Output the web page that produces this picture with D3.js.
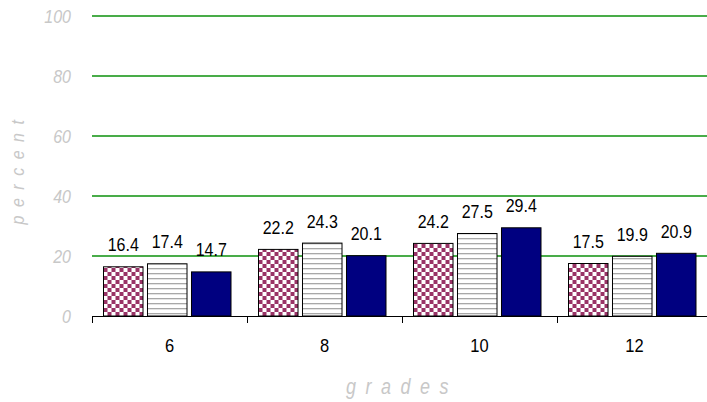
<!DOCTYPE html>
<html>
<head>
<meta charset="utf-8">
<script src="https://cdn.jsdelivr.net/npm/d3@7"></script>
<style>
  html, body { margin: 0; padding: 0; background: #fff; }
  svg { display: block; }
  text { font-family: "Liberation Sans", Arial, sans-serif; }
</style>
</head>
<body>
<svg id="chart" width="707" height="402"></svg>
<script>
// Share of students by grade, three series per grade
const grades = ["6", "8", "10", "12"];
const seriesKeys = ["a", "b", "c"];
const seriesA = [16.4, 22.2, 24.2, 17.5];
const seriesB = [17.4, 24.3, 27.5, 19.9];
const seriesC = [14.7, 20.1, 29.4, 20.9];
const yTicks = [0, 20, 40, 60, 80, 100];
const yTitle = "percent";
const xTitle = "grades";

const seriesValues = { a: seriesA, b: seriesB, c: seriesC };
const rows = grades.map((g, i) => ({
  grade: g,
  values: seriesKeys.map(k => ({ key: k, value: seriesValues[k][i] }))
}));

const svg = d3.select("#chart");
const W = 707;
const plotLeft = 92, plotTop = 16, plotBottom = 316, plotRight = 712;
const stretch = 1.15;
const lightGray = "#c8c8c8";

const y = d3.scaleLinear().domain([0, 100]).range([plotBottom, plotTop]);
const x0 = d3.scaleBand().domain(grades).range([plotLeft, plotRight]).padding(0);
const x1 = d3.scaleBand().domain(seriesKeys).range([11.5, 139]).paddingInner(0.102);

// Fill patterns
const defs = svg.append("defs");
const checker = defs.append("pattern")
  .attr("id", "checker").attr("patternUnits", "userSpaceOnUse")
  .attr("width", 8).attr("height", 8).attr("x", 103.5).attr("y", 0);
checker.append("rect").attr("width", 8).attr("height", 8).attr("fill", "#fff");
checker.append("rect").attr("width", 4).attr("height", 4).attr("fill", "#993366");
checker.append("rect").attr("x", 4).attr("y", 4).attr("width", 4).attr("height", 4).attr("fill", "#993366");

const stripes = defs.append("pattern")
  .attr("id", "stripes").attr("patternUnits", "userSpaceOnUse")
  .attr("width", 8).attr("height", 5).attr("x", 0).attr("y", 1);
stripes.append("rect").attr("width", 8).attr("height", 5).attr("fill", "#fff");
stripes.append("rect").attr("y", 2).attr("width", 8).attr("height", 1.3).attr("fill", "#a8a8a8");

const fills = { a: "url(#checker)", b: "url(#stripes)", c: "#000080" };

// Horizontal gridlines
svg.append("g")
  .selectAll("line")
  .data(yTicks.filter(t => t > 0))
  .join("line")
  .attr("x1", plotLeft).attr("x2", W)
  .attr("y1", d => y(d)).attr("y2", d => y(d))
  .attr("stroke", "#0c900c").attr("stroke-width", 1.5);

// Y tick labels
svg.append("g")
  .selectAll("text")
  .data(yTicks)
  .join("text")
  .attr("transform", d => `translate(71,${y(d) + 6.5}) scale(1,${stretch})`)
  .attr("text-anchor", "end")
  .attr("font-size", 16)
  .attr("font-style", "italic")
  .attr("fill", lightGray)
  .text(d => d);

// Bars
const groups = svg.append("g")
  .selectAll("g")
  .data(rows)
  .join("g")
  .attr("transform", d => `translate(${x0(d.grade)},0)`);

groups.selectAll("rect")
  .data(d => d.values)
  .join("rect")
  .attr("x", d => x1(d.key))
  .attr("y", d => y(d.value))
  .attr("width", x1.bandwidth())
  .attr("height", d => y(0) - y(d.value))
  .attr("fill", d => fills[d.key])
  .attr("stroke", "#000")
  .attr("stroke-width", 1);

// Value labels
groups.selectAll("text")
  .data(d => d.values)
  .join("text")
  .attr("transform", d => `translate(${x1(d.key) + x1.bandwidth() / 2},${y(d.value) - 15.5}) scale(1,${stretch})`)
  .attr("text-anchor", "middle")
  .attr("font-size", 16)
  .attr("fill", "#000")
  .text(d => d.value.toFixed(1));

// X axis
const xAxis = svg.append("g");
xAxis.append("line")
  .attr("x1", plotLeft).attr("x2", W)
  .attr("y1", plotBottom + 0.5).attr("y2", plotBottom + 0.5)
  .attr("stroke", "#000").attr("stroke-width", 1);
xAxis.selectAll("line.tick")
  .data(grades)
  .join("line")
  .attr("class", "tick")
  .attr("x1", d => x0(d) + 0.5).attr("x2", d => x0(d) + 0.5)
  .attr("y1", plotBottom).attr("y2", plotBottom + 7)
  .attr("stroke", "#000");
xAxis.selectAll("text")
  .data(grades)
  .join("text")
  .attr("transform", d => `translate(${x0(d) + x0.bandwidth() / 2},352) scale(1,${stretch})`)
  .attr("text-anchor", "middle")
  .attr("font-size", 16.5)
  .attr("fill", "#000")
  .text(d => d);

// Axis titles
svg.append("text")
  .attr("transform", `translate(402,394) scale(1,1.2)`)
  .attr("text-anchor", "middle")
  .attr("font-size", 18)
  .attr("font-style", "italic")
  .attr("letter-spacing", 9.5)
  .attr("fill", lightGray)
  .text(xTitle);

svg.append("text")
  .attr("transform", `translate(24,168) rotate(-90) scale(1,1.15)`)
  .attr("text-anchor", "middle")
  .attr("font-size", 16)
  .attr("font-style", "italic")
  .attr("letter-spacing", 8.5)
  .attr("fill", lightGray)
  .text(yTitle);
</script>
</body>
</html>
